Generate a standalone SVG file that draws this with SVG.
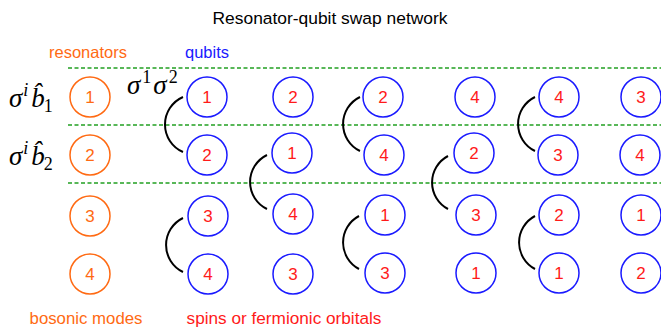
<svg xmlns="http://www.w3.org/2000/svg" width="661" height="328" viewBox="0 0 661 328">
<style>
.t{font-family:"Liberation Sans",Arial,sans-serif}
.res circle{fill:#fff;stroke:#ff6a13;stroke-width:1.5}
.res text{fill:#ff6a13;font-family:"Liberation Sans",Arial,sans-serif;font-size:17px;text-anchor:middle}
.q circle{fill:#fff;stroke:#1a1aff;stroke-width:1.5}
.q text{fill:#ff1a1a;font-family:"Liberation Sans",Arial,sans-serif;font-size:17px;text-anchor:middle}
.dash{stroke:#22a022;stroke-width:1.3;stroke-dasharray:4,2.5;fill:none}
.sw{stroke:#000;stroke-width:2;fill:none}
.m{font-family:"Liberation Serif","Times New Roman",serif;font-style:italic;fill:#000}
</style>
<rect width="661" height="328" fill="#fff"/>
<text class="t" x="330" y="24" font-size="17.4" text-anchor="middle" fill="#000">Resonator-qubit swap network</text>
<text class="t" x="88" y="58" font-size="16.5" text-anchor="middle" fill="#ff6a13">resonators</text>
<text class="t" x="207" y="58" font-size="16.5" text-anchor="middle" fill="#1a1aff">qubits</text>
<text class="t" x="86" y="324" font-size="16.8" text-anchor="middle" fill="#ff6a13">bosonic modes</text>
<text class="t" x="284" y="324" font-size="17.2" text-anchor="middle" fill="#ff1a1a">spins or fermionic orbitals</text>
<g id="dashes">
<line class="dash" x1="68" y1="68" x2="661" y2="68"/>
<line class="dash" x1="68" y1="125" x2="661" y2="125"/>
<line class="dash" x1="68" y1="183" x2="661" y2="183"/>
</g>
<g id="labels">
<text class="m" x="9" y="107" font-size="27">σ<tspan font-size="18" dy="-11" dx="1">i</tspan><tspan dy="11" dx="3" font-size="27">b̂</tspan><tspan font-size="18" dy="5" dx="-1" font-style="normal">1</tspan></text>
<text class="m" x="9" y="165" font-size="27">σ<tspan font-size="18" dy="-11" dx="1">i</tspan><tspan dy="11" dx="3" font-size="27">b̂</tspan><tspan font-size="18" dy="5" dx="-1" font-style="normal">2</tspan></text>
<text class="m" x="127" y="94" font-size="27">σ<tspan font-size="18" dy="-11" dx="2" font-style="normal">1</tspan><tspan dy="11" dx="2" font-size="27">σ</tspan><tspan font-size="18" dy="-11" dx="2" font-style="normal">2</tspan></text>
</g>
<g id="resonators" class="res">
<g id="r1"><circle cx="90" cy="97" r="20"/><text x="90" y="103">1</text></g>
<g id="r2"><circle cx="90" cy="155" r="20"/><text x="90" y="161">2</text></g>
<g id="r3"><circle cx="90" cy="216" r="20"/><text x="90" y="222">3</text></g>
<g id="r4"><circle cx="90" cy="274" r="20"/><text x="90" y="280">4</text></g>
</g>
<g id="qubits" class="q">
<g id="q11"><circle cx="207" cy="97" r="20"/><text x="207" y="103">1</text></g>
<g id="q12"><circle cx="207" cy="155" r="20"/><text x="207" y="161">2</text></g>
<g id="q13"><circle cx="208" cy="216" r="20"/><text x="208" y="222">3</text></g>
<g id="q14"><circle cx="208" cy="274" r="20"/><text x="208" y="280">4</text></g>
<g id="q21"><circle cx="293" cy="97" r="20"/><text x="293" y="103">2</text></g>
<g id="q22"><circle cx="292" cy="153" r="20"/><text x="292" y="159">1</text></g>
<g id="q23"><circle cx="293" cy="214" r="20"/><text x="293" y="220">4</text></g>
<g id="q24"><circle cx="293" cy="274" r="20"/><text x="293" y="280">3</text></g>
<g id="q31"><circle cx="383" cy="97" r="20"/><text x="383" y="103">2</text></g>
<g id="q32"><circle cx="384" cy="155" r="20"/><text x="384" y="161">4</text></g>
<g id="q33"><circle cx="385" cy="215" r="20"/><text x="385" y="221">1</text></g>
<g id="q34"><circle cx="385" cy="273" r="20"/><text x="385" y="279">3</text></g>
<g id="q41"><circle cx="475" cy="97" r="20"/><text x="475" y="103">4</text></g>
<g id="q42"><circle cx="474" cy="153" r="20"/><text x="474" y="159">2</text></g>
<g id="q43"><circle cx="476" cy="215" r="20"/><text x="476" y="221">3</text></g>
<g id="q44"><circle cx="476" cy="273" r="20"/><text x="476" y="279">1</text></g>
<g id="q51"><circle cx="559" cy="97" r="20"/><text x="559" y="103">4</text></g>
<g id="q52"><circle cx="558" cy="155" r="20"/><text x="558" y="161">3</text></g>
<g id="q53"><circle cx="559" cy="215" r="20"/><text x="559" y="221">2</text></g>
<g id="q54"><circle cx="559" cy="273" r="20"/><text x="559" y="279">1</text></g>
<g id="q61"><circle cx="641" cy="97" r="20"/><text x="641" y="103">3</text></g>
<g id="q62"><circle cx="640" cy="155" r="20"/><text x="640" y="161">4</text></g>
<g id="q63"><circle cx="641" cy="215" r="20"/><text x="641" y="221">1</text></g>
<g id="q64"><circle cx="641" cy="273" r="20"/><text x="641" y="279">2</text></g>
</g>
<g id="connectors">
<path class="sw" d="M183,97 A30,30 0 0,0 183,152"/>
<path class="sw" d="M267,155 A30,30 0 0,0 267,209"/>
<path class="sw" d="M183,218 A30,30 0 0,0 183,272"/>
<path class="sw" d="M360,97 A30,30 0 0,0 360,151"/>
<path class="sw" d="M359,216 A30,30 0 0,0 359,269"/>
<path class="sw" d="M448,156 A30,30 0 0,0 448,209"/>
<path class="sw" d="M535,97 A30,30 0 0,0 535,151"/>
<path class="sw" d="M535,216 A30,30 0 0,0 535,269"/>
</g>
</svg>
